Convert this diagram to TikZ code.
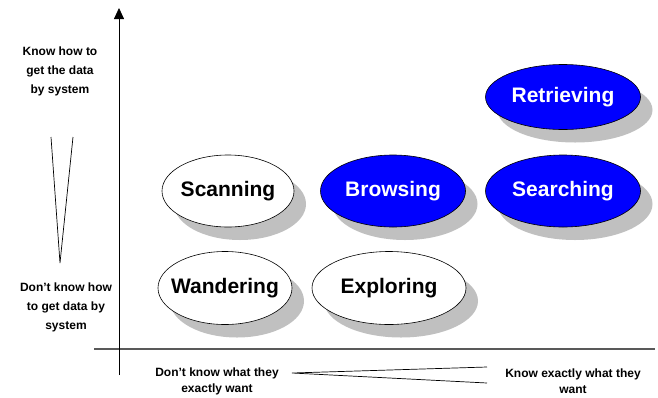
\documentclass[tikz,border=0pt]{standalone}
\usepackage{fontspec}
\setmainfont{Liberation Sans}
\usetikzlibrary{arrows.meta,shapes.geometric,shadows}
\definecolor{ovalblue}{RGB}{0,0,255}
\definecolor{shadowgray}{RGB}{192,192,192}
\newcommand{\ovaltext}[1]{\makebox[0pt]{#1}}
\begin{document}
\begin{tikzpicture}[x=1pt,y=-1pt,
  oval/.style={ellipse,draw=black,line width=0.6pt,inner sep=0pt,
    font=\fontsize{21}{24}\selectfont\bfseries,
    drop shadow={shadow xshift=12pt,shadow yshift=-13pt,fill=shadowgray,opacity=1}},
  whiteoval/.style={oval,fill=white,text=black},
  blueoval/.style={oval,fill=ovalblue,text=white},
  sidelabel/.style={align=center,font=\fontsize{12}{19}\selectfont\bfseries,inner sep=0pt},
  bottomlabel/.style={align=center,font=\fontsize{12}{16}\selectfont\bfseries,inner sep=0pt},
  thinline/.style={draw=black,line width=0.7pt}]
\useasboundingbox (0,0) rectangle (658,397);
% axes
\coordinate (ybot) at (119,375);
\coordinate (ytop) at (119,8);
\coordinate (xleft) at (94,349);
\coordinate (xright) at (655,349);
\draw[line width=1.6pt,draw=black!65] (xleft) -- (xright);
\draw[line width=0.8pt,-{Triangle[width=10pt,length=11pt]}] (ybot) -- (ytop);
% ovals
\node[whiteoval,minimum width=132pt,minimum height=72pt] (scan) at (228,191) {\ovaltext{Scanning}};
\node[blueoval,minimum width=145pt,minimum height=72pt] (brow) at (393,191) {\ovaltext{Browsing}};
\node[blueoval,minimum width=155pt,minimum height=72pt] (sear) at (563,191) {\ovaltext{Searching}};
\node[blueoval,minimum width=155pt,minimum height=65pt] (retr) at (563,97) {\ovaltext{Retrieving}};
\node[whiteoval,minimum width=134pt,minimum height=73pt] (wand) at (225,288) {\ovaltext{Wandering}};
\node[whiteoval,minimum width=154pt,minimum height=73pt] (expl) at (389,288) {\ovaltext{Exploring}};
% side labels
\node[sidelabel] (knowsys) at (60,71) {Know how to\\get the data\\by system};
\node[sidelabel] (dontsys) at (66,307) {Don't know how\\to get data by\\system};
\node[bottomlabel] (dontwant) at (217,381) {Don't know what they\\exactly want};
\node[bottomlabel] (knowwant) at (573,381) {Know exactly what they\\want};
% wedges
\coordinate (vl) at (51,137);
\coordinate (vr) at (73,137);
\coordinate (vtip) at (60,263);
\draw[thinline] (vl) -- (vtip) -- (vr);
\coordinate (htip) at (292,373);
\coordinate (hu) at (487,367);
\coordinate (hd) at (487,383);
\draw[thinline] (hu) -- (htip) -- (hd);
\end{tikzpicture}
\end{document}
